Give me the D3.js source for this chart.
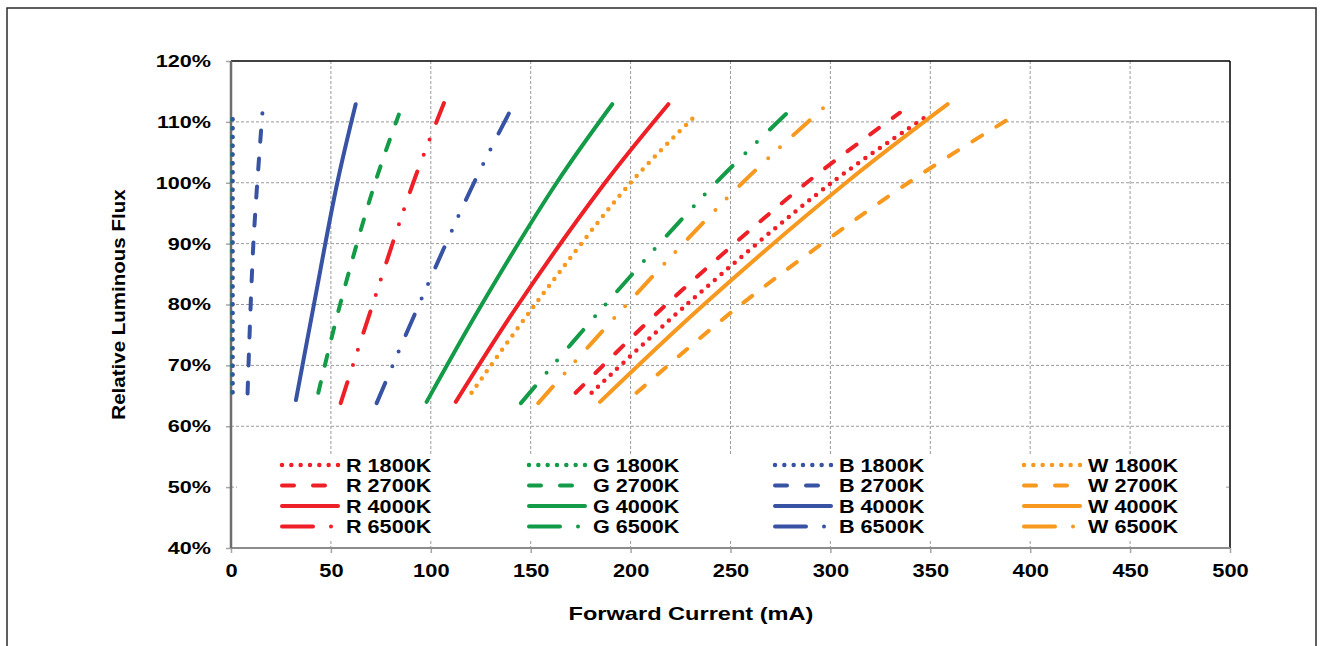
<!DOCTYPE html>
<html>
<head>
<meta charset="utf-8">
<script src="https://cdn.jsdelivr.net/npm/d3@7"></script>
<style>
  body { margin: 0; background: #fff; }
  text { font-family: "Liberation Sans", Arial, sans-serif; font-weight: bold; fill: #000; }
</style>
</head>
<body>
<div id="chart"></div>
<script>
// tick values
const xTicks = [0, 50, 100, 150, 200, 250, 300, 350, 400, 450, 500];
const yTicks = [40, 50, 60, 70, 80, 90, 100, 110, 120];

// series: [forward current mA, relative flux %]
const r1800 = [[180.5, 65.5], [228.1, 80], [300.6, 100], [349, 111.1]];
const r2700 = [[172.5, 65.5], [217.9, 80], [288.1, 100], [334.8, 111.5]];
const r4000 = [[112.5, 64], [143.8, 80], [187.2, 100], [218.9, 112.9]];
const r6500 = [[54.9, 63.8], [70.9, 80], [91.2, 100], [106.6, 113.1]];
const g1800 = [[0.6, 65.6], [0.6, 110.6]];
const g2700 = [[43.7, 65.5], [54.6, 80], [72.1, 100], [84, 111.2]];
const g4000 = [[97.9, 64], [125.5, 80], [163, 100], [190.8, 112.9]];
const g6500 = [[145.1, 63.8], [187.4, 80], [242.7, 100], [283.6, 113.1]];
const b1800 = [[0.8, 65.6], [0.8, 110.6]];
const b2700 = [[8.3, 65.4], [11.2, 90], [15.7, 111.4]];
const b4000 = [[32.5, 64.3], [41.5, 80], [53.2, 100], [62.4, 112.9]];
const b6500 = [[72.9, 63.8], [94.1, 80], [121.6, 100], [141.8, 113.1]];
const w1800 = [[120.4, 65.5], [152.2, 80], [200, 100], [232.4, 111]];
const w2700 = [[203, 65.5], [255.3, 80], [339, 100], [389.9, 110.6]];
const w4000 = [[184.7, 64], [236.7, 80], [307.8, 100], [358.7, 112.9]];
const w6500 = [[153.8, 63.8], [198, 80], [256, 100], [299.3, 113.1]];

const leds = ["R", "G", "B", "W"];
const temps = ["1800K", "2700K", "4000K", "6500K"];
const seriesData = {
  R: [r1800, r2700, r4000, r6500],
  G: [g1800, g2700, g4000, g6500],
  B: [b1800, b2700, b4000, b6500],
  W: [w1800, w2700, w4000, w6500],
};

const colour = { R: "#ee1f26", G: "#139b48", B: "#3953a4", W: "#f7981f" };
// plot and legend dash patterns, by temperature index
const plotDash = ["0 8.8", "11 17", null, "22 18 0 16 0 18"];
const legendDash = ["0 9.33", "12 19", null, "31 18 0 40"];

const width = 1321;
const height = 646;
const plot = { left: 231, right: 1230, top: 61, bottom: 548 };

const svg = d3
  .select("#chart")
  .append("svg")
  .attr("width", width)
  .attr("height", height);

svg.append("rect").attr("width", width).attr("height", height).attr("fill", "#fff");

// outer frame
svg
  .append("rect")
  .attr("x", 7)
  .attr("y", 8)
  .attr("width", 1309)
  .attr("height", 660)
  .attr("fill", "none")
  .attr("stroke", "#2b2b2b")
  .attr("stroke-width", 1.5);

const x = d3.scaleLinear().domain([0, 500]).range([plot.left, plot.right]);
const y = d3.scaleLinear().domain([40, 120]).range([plot.bottom, plot.top]);

// widen text horizontally like the source picture
function widen(sel, k) {
  sel.each(function () {
    const len = this.getComputedTextLength();
    d3.select(this).attr("textLength", len * k).attr("lengthAdjust", "spacingAndGlyphs");
  });
}

// grid
const grid = svg.append("g").attr("stroke", "#9a9a9a").attr("stroke-width", 1).attr("stroke-dasharray", "3 2");
grid
  .selectAll("line.v")
  .data(xTicks.filter((d) => d > 0 && d < 500))
  .join("line")
  .attr("class", "v")
  .attr("x1", (d) => x(d))
  .attr("x2", (d) => x(d))
  .attr("y1", plot.top)
  .attr("y2", plot.bottom);
grid
  .selectAll("line.h")
  .data(yTicks.filter((d) => d > 40 && d < 120))
  .join("line")
  .attr("class", "h")
  .attr("x1", plot.left)
  .attr("x2", plot.right)
  .attr("y1", (d) => y(d))
  .attr("y2", (d) => y(d));

// axes
const yAxis = svg
  .append("g")
  .attr("transform", `translate(${plot.left},0)`)
  .call(d3.axisLeft(y).tickValues(yTicks).tickFormat((d) => d + "%").tickSize(5).tickPadding(15));
yAxis.select(".domain").remove();
yAxis.selectAll(".tick line").attr("stroke", "#a6a6a6").attr("stroke-width", 1.5);
yAxis.selectAll(".tick text").attr("font-size", 17).attr("font-family", null).call(widen, 1.27);

const xAxis = svg
  .append("g")
  .attr("transform", `translate(0,${plot.bottom})`)
  .call(d3.axisBottom(x).tickValues(xTicks).tickSize(5).tickPadding(11));
xAxis.select(".domain").remove();
xAxis.selectAll(".tick line").attr("stroke", "#a6a6a6").attr("stroke-width", 1.5);
xAxis.selectAll(".tick text").attr("font-size", 19).attr("font-family", null).call(widen, 1.15);

// plot borders
svg.append("line").attr("x1", plot.left).attr("x2", plot.right).attr("y1", plot.top).attr("y2", plot.top)
  .attr("stroke", "#000").attr("stroke-width", 1.5);
svg.append("line").attr("x1", plot.right).attr("x2", plot.right).attr("y1", plot.top).attr("y2", plot.bottom)
  .attr("stroke", "#000").attr("stroke-width", 1.5);
svg.append("line").attr("x1", plot.left).attr("x2", plot.right).attr("y1", plot.bottom).attr("y2", plot.bottom)
  .attr("stroke", "#8c8c8c").attr("stroke-width", 2);
svg.append("line").attr("x1", plot.left).attr("x2", plot.left).attr("y1", plot.top).attr("y2", plot.bottom)
  .attr("stroke", "#6e6e6e").attr("stroke-width", 2.5);

// curves
const line = d3
  .line()
  .x((d) => x(d[0]))
  .y((d) => y(d[1]))
  .curve(d3.curveCatmullRom);

const drawOrder = ["R", "G", "B", "W"];
drawOrder.forEach((led) => {
  temps.forEach((t, i) => {
    svg
      .append("path")
      .datum(seriesData[led][i])
      .attr("d", line)
      .attr("fill", "none")
      .attr("stroke", colour[led])
      .attr("stroke-width", i === 0 ? 4.5 : 4)
      .attr("stroke-linecap", "round")
      .attr("stroke-dasharray", plotDash[i]);
  });
});

// legend
svg.append("rect").attr("x", 237).attr("y", 454).attr("width", 989).attr("height", 86).attr("fill", "#fff");

const legendCols = [280, 527, 773, 1022];
const legendRows = [465, 485.5, 506, 526.5];
leds.forEach((led, c) => {
  temps.forEach((t, r) => {
    const lx = legendCols[c];
    const ly = legendRows[r];
    svg
      .append("line")
      .attr("x1", lx + 2)
      .attr("x2", lx + 58)
      .attr("y1", ly)
      .attr("y2", ly)
      .attr("stroke", colour[led])
      .attr("stroke-width", r === 0 ? 4.5 : 4)
      .attr("stroke-linecap", "round")
      .attr("stroke-dasharray", legendDash[r]);
    svg
      .append("text")
      .attr("x", lx + 66)
      .attr("y", ly + 6.5)
      .attr("font-size", 18)
      .text(`${led} ${t}`)
      .call(widen, 1.2);
  });
});

// axis titles
svg
  .append("text")
  .attr("x", 691)
  .attr("y", 620)
  .attr("text-anchor", "middle")
  .attr("font-size", 19)
  .text("Forward Current (mA)")
  .call(widen, 1.24);

svg
  .append("text")
  .attr("transform", `translate(125,${(plot.top + plot.bottom) / 2}) rotate(-90)`)
  .attr("text-anchor", "middle")
  .attr("font-size", 18)
  .text("Relative Luminous Flux")
  .call(widen, 1.14);
</script>
</body>
</html>
